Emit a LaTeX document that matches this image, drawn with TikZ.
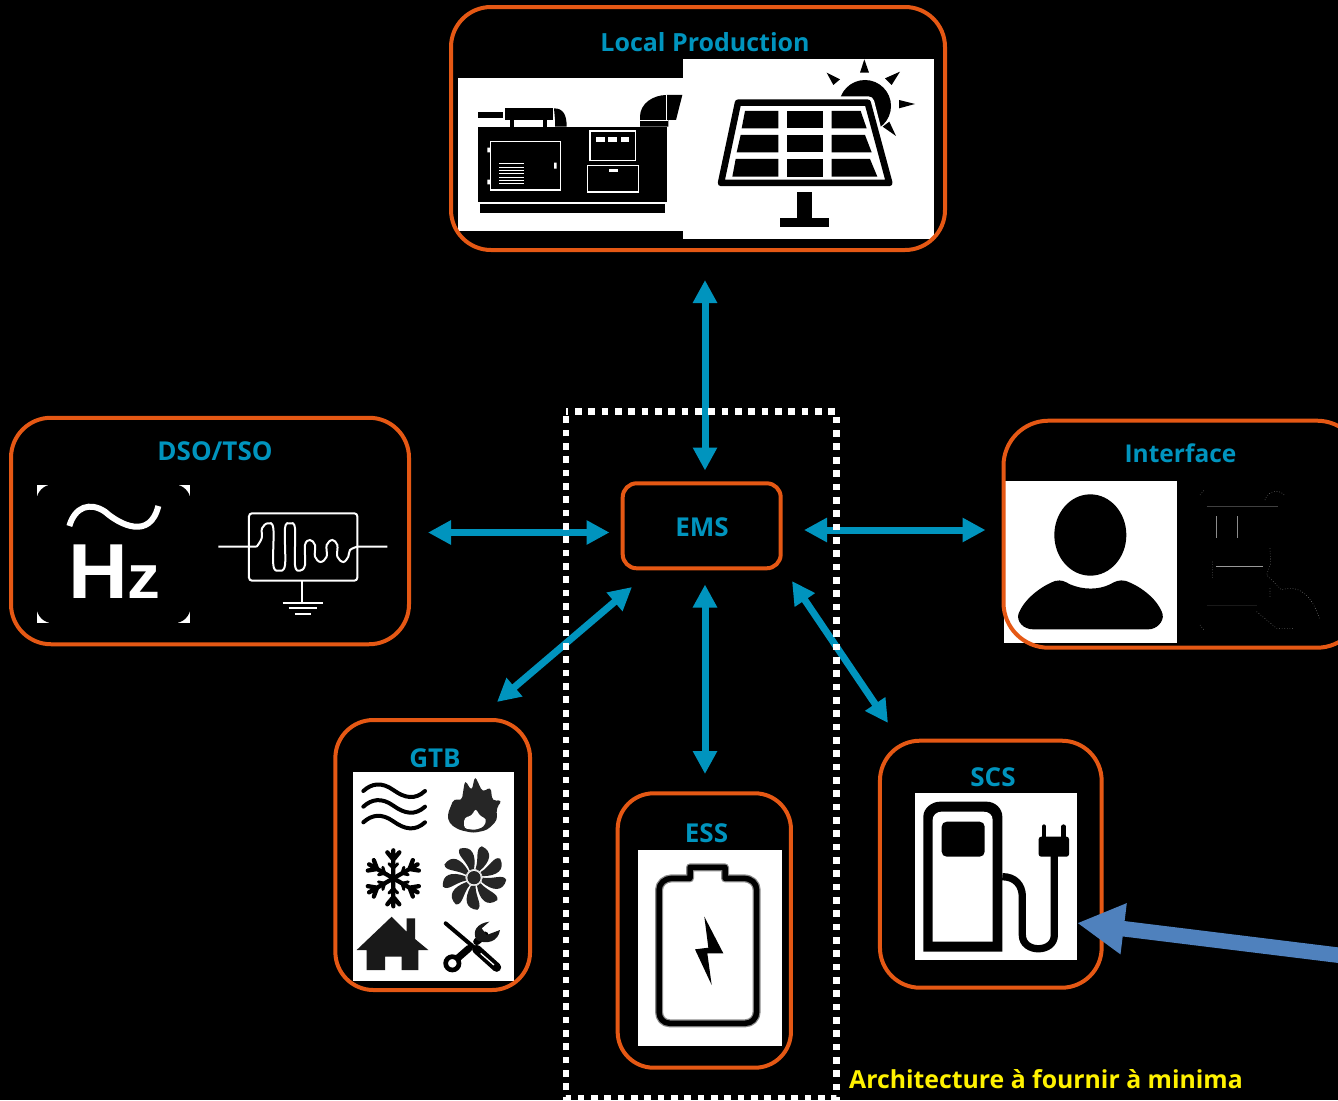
\documentclass[tikz,border=0pt]{standalone}
\usepackage{fontspec}
\setmainfont{Open Sans}
\newfontfamily\hzfont{Liberation Sans}
\usetikzlibrary{arrows.meta,calc}
\definecolor{orng}{RGB}{229,88,20}
\definecolor{teal1}{RGB}{0,148,190}
\definecolor{blue1}{RGB}{79,129,189}
\tikzset{
  panel/.style={draw=orng,line width=4pt,inner sep=0pt,shape=rectangle},
  imgbox/.style={fill=white,draw=none},
  title/.style={text=teal1,font=\fontsize{25}{30}\selectfont\bfseries,anchor=base,inner sep=0pt},
  link/.style={draw=teal1,line width=7pt,{Triangle[length=23pt,width=23pt]}-{Triangle[length=23pt,width=23pt]}},
  wl/.style={draw=white,line width=2pt},
  bk/.style={draw=black,line cap=round,line join=round},
  zoomed/.style={scale=0.33333}
}
\begin{document}
\begin{tikzpicture}[x=1pt,y=-1pt]
\useasboundingbox (0,0) rectangle (1338,1100);
\clip (0,0) rectangle (1338,1100);
\fill[black] (0,0) rectangle (1338,1100);
% white picture backgrounds
\fill[imgbox] (458,78) rectangle (683,231);
\fill[imgbox] (683,59) rectangle (934,239);
\fill[imgbox] (1004,481) rectangle (1177,643);
\fill[imgbox] (353,772) rectangle (514,981);
\fill[imgbox] (638,850) rectangle (782,1046);
\fill[imgbox] (915,793) rectangle (1077,960);
% generator
\begin{scope}[shift={(450,0)},zoomed]
\fill (83,382) rectangle (650,605);
\fill (90,613) rectangle (645,640);
\fill (83,335) rectangle (160,355);
\fill (165,325) rectangle (310,360);
\fill (180,360) rectangle (191,382);
\fill (280,360) rectangle (291,382);
\fill (312,325) .. controls (340,325) and (350,345) .. (350,380) -- (315,380) -- (315,358) -- cycle;
\fill (570,380) -- (570,350) .. controls (570,310) and (610,285) .. (650,285) -- (697,285) -- (678,360) -- (655,360) -- (655,380) -- cycle;
\draw[white,line width=1.2pt] (650,285) -- (650,360) (570,362) -- (655,362);
\draw[wl,line width=1.6pt] (122,425) rectangle (332,570);
\foreach \yy in {492,502,512,522,532,542,552}{\draw[white,line width=1pt] (147,\yy) -- (222,\yy);}
\fill[white] (112,443) rectangle (121,457) (112,539) rectangle (121,553) (312,488) rectangle (320,506);
\draw[wl,line width=1.4pt] (420,393) rectangle (557,482);
\foreach \xx in {439,475,512}{\fill[white] (\xx,410) rectangle ++(26,15);}
\draw[wl,line width=1.4pt] (413,497) rectangle (565,576);
\fill[white] (477,508) rectangle (505,517);
\end{scope}
% solar panel
\begin{scope}[shift={(450,0)},zoomed]
\fill (1245,318) circle[radius=78];
\draw[white,line width=12pt,line join=round] (1150,307) -- (1255,307) -- (1318,552);
\fill (1243,178) -- (1257,218) -- (1230,218) -- cycle;
\fill (1350,215) -- (1325,255) -- (1305,235) -- cycle;
\fill (1395,312) -- (1347,325) -- (1347,300) -- cycle;
\fill (1338,408) -- (1298,380) -- (1318,365) -- cycle;
\fill (1130,218) -- (1170,238) -- (1150,255) -- cycle;
\fill[white] (862,307) -- (1255,307) -- (1318,552) -- (812,552) -- cycle;
\draw[black,line width=6.5pt,line join=round] (864,308) -- (1253,308) -- (1318,549) -- (813,549) -- cycle;
\fill (885,333) -- (985,333) -- (985,385) -- (875,385) -- cycle;
\fill (1012,333) rectangle (1120,385);
\fill (1145,333) -- (1232,333) -- (1250,385) -- (1145,385) -- cycle;
\fill (872,405) -- (985,405) -- (985,457) -- (860,457) -- cycle;
\fill (1012,405) rectangle (1120,457);
\fill (1145,405) -- (1245,405) -- (1265,457) -- (1145,457) -- cycle;
\fill (857,477) -- (985,477) -- (985,530) -- (847,530) -- cycle;
\fill (1012,477) rectangle (1120,530);
\fill (1145,477) -- (1260,477) -- (1282,530) -- (1145,530) -- cycle;
\fill (1042,577) rectangle (1085,655);
\fill (990,653) rectangle (1138,682);
\end{scope}
% person and faint hand icon
\begin{scope}[shift={(1000,415)},zoomed]
\fill (271,360) ellipse[x radius=108,y radius=122];
\fill (100,643) .. controls (70,643) and (50,620) .. (55,598) .. controls (70,555) and (120,515) .. (165,498) .. controls (185,493) and (195,500) .. (210,508) .. controls (250,525) and (295,525) .. (330,508) .. controls (345,500) and (355,493) .. (378,498) .. controls (425,515) and (475,555) .. (488,598) .. controls (492,620) and (470,643) .. (445,643) -- cycle;
\draw[white!25!black,line width=0.5pt] (620,273) -- (833,273);
\draw[white!55!black,line width=1pt] (650,303) -- (650,370) (713,303) -- (713,370);
\draw[white!60!black,line width=1.1pt] (648,455) -- (790,455);
\draw[white!10!black,line width=0.5pt] (620,570) -- (770,570);
\draw[white!45!black,line width=0.6pt,dotted] (600,240) -- (612,226) (795,255) .. controls (800,235) and (830,215) .. (855,242);
\draw[white!45!black,line width=0.6pt,dotted] (810,400) -- (812,445) -- (800,480) -- (845,525) .. controls (870,515) and (925,510) .. (958,610) (770,590) -- (830,640) -- (880,640) (810,520) -- (810,548) (637,440) -- (637,490) (600,630) -- (612,645);
\end{scope}
% Hz icon
\begin{scope}[shift={(0,410)},zoomed]
\fill[white] (111,225) rectangle (570,638);
\fill[black,rounded corners=17pt] (109,223) rectangle (572,640);
\draw[white,line width=6pt] (208,348) .. controls (225,290) and (270,275) .. (315,305) .. controls (360,345) and (450,390) .. (475,288);
% filter
\draw[wl,rounded corners=3pt] (747,310) rectangle (1072,512);
\draw[wl] (655,410) -- (770,410) plot[smooth,tension=0.6] coordinates {(770,410) (785,385) (786,355) (803,340) (820,355) (820,465) (837,482) (855,465) (855,355) (870,340) (885,355) (885,465) (900,482) (915,465) (915,405) (930,390) (945,405) (945,440) (962,456) (980,440) (980,405) (997,390) (1012,405) (1012,440) (1030,456) (1045,440) (1050,420) (1072,410)} (1072,410) -- (1162,410);
\draw[wl] (907,512) -- (907,578) (848,578) -- (968,578) (866,595) -- (950,595) (885,612) -- (933,612);
\end{scope}
\node[text=white,anchor=base west,inner sep=0pt,font=\hzfont\bfseries,xscale=1.06,transform shape] (hz) at (68,598) {\fontsize{78}{78}\selectfont H\fontsize{62}{62}\selectfont z};
% GTB icons
\begin{scope}[shift={(330,715)},zoomed]
\foreach \dy in {0,47,94}{
\draw[bk,line width=4pt] (100,228+\dy) .. controls (125,205+\dy) and (155,200+\dy) .. (190,225+\dy) .. controls (225,250+\dy) and (255,255+\dy) .. (285,228+\dy);}
\fill[black!85,rounded corners=4pt] (352,300) -- (372,250) -- (395,258) -- (405,195) -- (425,228) -- (435,183) -- (458,232) -- (482,215) -- (487,258) -- (517,255) -- (499,280) -- (502,315) -- (472,345) -- (430,354) -- (385,344) -- (358,325) -- cycle;
\fill[white,rounded corners=3pt] (402,340) -- (403,308) -- (425,302) -- (437,280) -- (450,303) -- (470,312) -- (462,335) -- (435,345) -- cycle;
\foreach \a in {30,90,150,210,270,330}{
\begin{scope}[shift={(190,490)},rotate=\a]
\draw[bk,line width=4.3pt] (0,0) -- (84,0) (56,0) -- (78,18) (56,0) -- (78,-18);
\draw[bk,line width=3pt] (30,0) -- (44,13) (30,0) -- (44,-13);
\end{scope}}
\foreach \a in {0,40,...,320}{
\fill[black!85] ($(432,488)+(\a:26)$) .. controls ($(432,488)+(\a+5:60)$) and ($(432,488)+(\a-8:88)$) .. ($(432,488)+(\a+4:97)$) .. controls ($(432,488)+(\a+26:97)$) and ($(432,488)+(\a+36:70)$) .. ($(432,488)+(\a+30:26)$) -- cycle;}
\fill[black!85] (432,488) circle[radius=20];
\draw[gray!40,line width=0.7pt] (432,488) circle[radius=24];
\fill[black!90] (80,705) -- (185,605) -- (230,650) -- (230,610) -- (255,610) -- (255,672) -- (295,705) -- (265,705) -- (265,765) -- (215,765) -- (215,725) -- (165,725) -- (165,765) -- (110,765) -- (110,705) -- cycle;
\draw[bk,line width=4pt] (347,625) -- (432,697);
\draw[bk,line width=9pt] (440,703) -- (500,757);
\draw[white,line width=1.3pt] (452,715) -- (492,750);
\draw[black,line width=4.7pt] (367,745) circle[radius=20];
\draw[bk,line width=7pt] (385,728) -- (417,700);
\draw[bk,line width=7pt] (440,680) -- (465,660);
\fill[black!90] (440,675) .. controls (425,650) and (440,625) .. (478,620) -- (455,640) -- (470,660) -- (510,645) .. controls (505,680) and (470,690) .. (440,675) -- cycle;
\end{scope}
% battery
\begin{scope}[shift={(610,790)},zoomed]
\foreach \col/\w in {black!45/8pt,black/5.5pt}{
\draw[\col,line width=\w,line join=round] (147,300) .. controls (147,280) and (165,265) .. (185,265) -- (240,265) -- (240,232) -- (345,232) -- (345,265) -- (400,265) .. controls (425,265) and (440,280) .. (440,300) -- (440,665) .. controls (440,685) and (425,700) .. (405,700) -- (180,700) .. controls (160,700) and (147,685) .. (147,665) -- cycle;}
\fill (283,380) -- (340,490) -- (292,490) -- (305,585) -- (255,478) -- (295,473) -- cycle;
\end{scope}
% charger
\begin{scope}[shift={(875,735)},zoomed]
\fill (145,650) -- (145,245) .. controls (145,220) and (170,200) .. (195,200) -- (335,200) .. controls (360,200) and (382,220) .. (382,245) -- (382,650) -- cycle;
\fill[white] (173,620) -- (173,255) .. controls (173,240) and (185,230) .. (200,230) -- (325,230) .. controls (342,230) and (353,240) .. (353,255) -- (353,620) -- cycle;
\fill[rounded corners=5pt] (200,260) rectangle (329,365);
\draw[black,line width=7.3pt] (382,425) .. controls (420,425) and (442,450) .. (442,485) -- (442,600) .. controls (442,655) and (538,655) .. (538,600) -- (538,350);
\fill[rounded corners=2.5pt] (491,305) rectangle (582,365);
\draw[black,line width=4.6pt,line cap=round] (507,275) -- (507,310) (565,275) -- (565,310);
\end{scope}
% panels
\node[panel,rounded corners=40pt,minimum width=494pt,minimum height=243pt] (local) at (698,128.5) {};
\node[panel,rounded corners=40pt,minimum width=398pt,minimum height=226.5pt] (dso) at (210,531) {};
\node[panel,rounded corners=45pt,minimum width=358.5pt,minimum height=227pt] (iface) at (1182.75,534.2) {};
\node[panel,rounded corners=14pt,minimum width=158pt,minimum height=85pt] (ems) at (701.7,525.8) {};
\node[panel,rounded corners=38pt,minimum width=194.7pt,minimum height=270pt] (gtb) at (432.7,855) {};
\node[panel,rounded corners=36pt,minimum width=173.3pt,minimum height=274.4pt] (ess) at (704.3,930.5) {};
\node[panel,rounded corners=40pt,minimum width=221.7pt,minimum height=247pt] (scs) at (990.8,864.2) {};
% titles
\node[title] (tlocal) at (705,51) {Local Production};
\node[title,font=\fontsize{26}{30}\selectfont\bfseries] (tdso) at (215,460) {DSO/TSO};
\node[title,font=\fontsize{24.5}{30}\selectfont\bfseries] (tiface) at (1180.5,462) {Interface};
\node[title,font=\fontsize{26}{30}\selectfont\bfseries] (tems) at (702,536) {EMS};
\node[title,font=\fontsize{26}{30}\selectfont\bfseries] (tgtb) at (435,767.5) {GTB};
\node[title,font=\fontsize{26}{30}\selectfont\bfseries] (tess) at (706.5,842) {ESS};
\node[title,font=\fontsize{26}{30}\selectfont\bfseries] (tscs) at (993,786) {SCS};
\node[text=yellow,font=\fontsize{24.8}{30}\selectfont\bfseries,anchor=base west,inner sep=0pt] (note) at (849,1088) {Architecture à fournir à minima};
% connector ends
\coordinate (a1) at (705,280); \coordinate (a2) at (705,470.5);
\coordinate (b1) at (428,532.5); \coordinate (b2) at (609.5,532.5);
\coordinate (c1) at (804,530); \coordinate (c2) at (985.5,530);
\coordinate (d1) at (632,587); \coordinate (d2) at (497,702);
\coordinate (e1) at (705,584.5); \coordinate (e2) at (705,774);
\coordinate (f1) at (792,581); \coordinate (f2) at (888,723);
\coordinate (g1) at (1345,956); \coordinate (g2) at (1077,923);
\draw[link] (a1) -- (a2);
\draw[link] (b1) -- (b2);
\draw[link] (c1) -- (c2);
\draw[link] (d1) -- (d2);
\draw[link] (e1) -- (e2);
\draw[link] (f1) -- (f2);
% dotted frame
\draw[white,line width=6.67pt,dash pattern=on 6.67pt off 6.67pt,dash phase=4.33pt] (566,411.7) -- (836.7,411.7) -- (836.7,1098.3) -- (566,1098.3) -- cycle;
% blue arrow
\draw[blue1,line width=15.5pt,-{Triangle[length=47pt,width=48pt]}] (g1) -- (g2);
\end{tikzpicture}
\end{document}
